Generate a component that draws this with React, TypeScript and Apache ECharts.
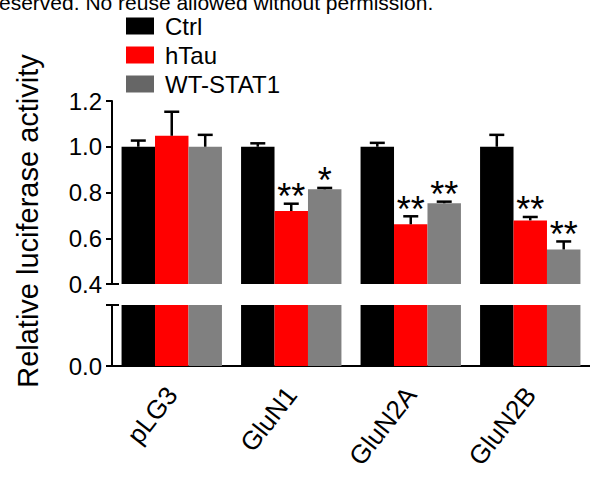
import React, { useEffect, useRef } from "react";
import * as echarts from "echarts";

const categories = ["pLG3", "GluN1", "GluN2A", "GluN2B"];
const seriesNames = ["Ctrl", "hTau", "WT-STAT1"];
const ctrl = [1.0, 1.0, 1.0, 1.0];
const ctrlErr = [0.027, 0.015, 0.017, 0.052];
const htau = [1.048, 0.719, 0.661, 0.678];
const htauErr = [0.105, 0.032, 0.035, 0.015];
const stat1 = [1.0, 0.814, 0.753, 0.551];
const stat1Err = [0.052, 0.006, 0.007, 0.035];
const ctrlStars = ["", "", "", ""];
const htauStars = ["", "**", "**", "**"];
const stat1Stars = ["", "*", "**", "**"];
const upperTicks = [0.4, 0.6, 0.8, 1.0, 1.2];
const lowerTicks = [0];

const colors = ["#000000", "#ff0000", "#808080"];
const legendColors = ["#000000", "#ff0000", "#666666"];
const FONT = "'Liberation Sans', Arial, Helvetica, sans-serif";
const BAR_FRAC = 0.28;

export default function App() {
  const ref = useRef<HTMLDivElement>(null);
  useEffect(() => {
    if (!ref.current) return;
    const chart = echarts.init(ref.current, null, { renderer: "svg" });
    const values = [ctrl, htau, stat1];
    const errs = [ctrlErr, htauErr, stat1Err];
    const stars = [ctrlStars, htauStars, stat1Stars];
    const errData: any[] = [];
    values.forEach((vals, k) => {
      vals.forEach((v, i) => {
        errData.push([i, v, errs[k][i], k, stars[k][i]]);
      });
    });

    const barCommon = (k: number, axisIdx: number) => ({
      type: "bar",
      name: seriesNames[k],
      xAxisIndex: axisIdx,
      yAxisIndex: axisIdx,
      data: values[k],
      barWidth: BAR_FRAC * 100 + "%",
      barGap: "0%",
      clip: true,
      itemStyle: { color: colors[k] },
      emphasis: { disabled: true },
    });

    const option: any = {
      animation: false,
      textStyle: { fontFamily: FONT },
      legend: {
        orient: "vertical",
        left: 126,
        top: 14,
        padding: 0,
        itemWidth: 28,
        itemHeight: 17,
        itemGap: 5,
        icon: "rect",
        textStyle: { fontSize: 24, color: "#000", fontFamily: FONT, padding: [0, 0, 0, 6] },
        data: seriesNames.map((n, k) => ({ name: n, itemStyle: { color: legendColors[k] } })),
        selectedMode: false,
      },
      grid: [
        { left: 112, right: 0, top: 101, height: 183 },
        { left: 112, right: 0, top: 305, height: 61 },
      ],
      xAxis: [
        {
          type: "category",
          gridIndex: 0,
          data: categories,
          show: false,
        },
        {
          type: "category",
          gridIndex: 1,
          data: categories,
          axisLine: { lineStyle: { color: "#000", width: 2 } },
          axisTick: { alignWithLabel: true, length: 7, lineStyle: { color: "#000", width: 2 } },
          axisLabel: {
            rotate: 52,
            fontSize: 26,
            color: "#000",
            margin: 24,
            fontFamily: FONT,
          },
        },
      ],
      yAxis: [
        {
          type: "value",
          gridIndex: 0,
          min: 0.4,
          max: 1.2,
          interval: 0.2,
          splitLine: { show: false },
          axisLine: { show: true, lineStyle: { color: "#000", width: 2 } },
          axisTick: { show: true, length: 6, lineStyle: { color: "#000", width: 2 }, customValues: upperTicks },
          axisLabel: {
            fontSize: 24,
            color: "#000",
            margin: 10,
            fontFamily: FONT,
            customValues: upperTicks,
            formatter: (v: number) => v.toFixed(1),
          },
        },
        {
          type: "value",
          gridIndex: 1,
          min: 0,
          max: 0.265,
          splitLine: { show: false },
          axisLine: { show: true, lineStyle: { color: "#000", width: 2 } },
          axisTick: { show: true, length: 6, lineStyle: { color: "#000", width: 2 }, customValues: lowerTicks },
          axisLabel: {
            fontSize: 24,
            color: "#000",
            margin: 10,
            fontFamily: FONT,
            customValues: lowerTicks,
            formatter: (v: number) => v.toFixed(1),
          },
        },
      ],
      series: [
        barCommon(0, 0),
        barCommon(1, 0),
        barCommon(2, 0),
        barCommon(0, 1),
        barCommon(1, 1),
        barCommon(2, 1),
        {
          type: "custom",
          xAxisIndex: 0,
          yAxisIndex: 0,
          z: 5,
          clip: false,
          data: errData,
          renderItem: (params: any, api: any) => {
            const i = api.value(0);
            const v = api.value(1);
            const e = api.value(2);
            const k = api.value(3);
            const star = errData[params.dataIndex][4];
            const base = api.coord([i, v]);
            const top = api.coord([i, v + e]);
            const bw = api.size([1, 0])[0];
            const x = base[0] + (k - 1) * bw * BAR_FRAC;
            const capHalf = 7.5;
            const children: any[] = [
              {
                type: "line",
                shape: { x1: x, y1: base[1], x2: x, y2: top[1] },
                style: { stroke: "#000", lineWidth: 2.5 },
              },
              {
                type: "line",
                shape: { x1: x - capHalf, y1: top[1], x2: x + capHalf, y2: top[1] },
                style: { stroke: "#000", lineWidth: 2.5 },
              },
            ];
            if (star) {
              children.push({
                type: "text",
                style: {
                  text: star,
                  x: x,
                  y: top[1] - 7,
                  align: "center",
                  verticalAlign: "middle",
                  fontSize: 36,
                  fontFamily: FONT,
                  fill: "#000",
                },
              });
            }
            return { type: "group", children };
          },
        },
      ],
      graphic: [
        {
          type: "text",
          left: -1,
          top: -8,
          style: {
            text: "eserved. No reuse allowed without permission.",
            fontSize: 21,
            fontFamily: FONT,
            fill: "#000",
          },
        },
        {
          type: "text",
          x: 28,
          y: 221,
          rotation: Math.PI / 2,
          style: {
            text: "Relative luciferase activity",
            fontSize: 29,
            fontFamily: FONT,
            fill: "#000",
            align: "center",
            verticalAlign: "middle",
          },
        },
        {
          type: "line",
          shape: { x1: 111, y1: 284, x2: 119, y2: 284 },
          style: { stroke: "#000", lineWidth: 2 },
        },
        {
          type: "line",
          shape: { x1: 106, y1: 305, x2: 119, y2: 305 },
          style: { stroke: "#000", lineWidth: 2 },
        },
      ],
    };
    chart.setOption(option);
    return () => chart.dispose();
  }, []);
  return (
    <div
      ref={ref}
      style={{ position: "fixed", left: 0, top: 0, width: 590, height: 479, background: "#fff" }}
    />
  );
}
